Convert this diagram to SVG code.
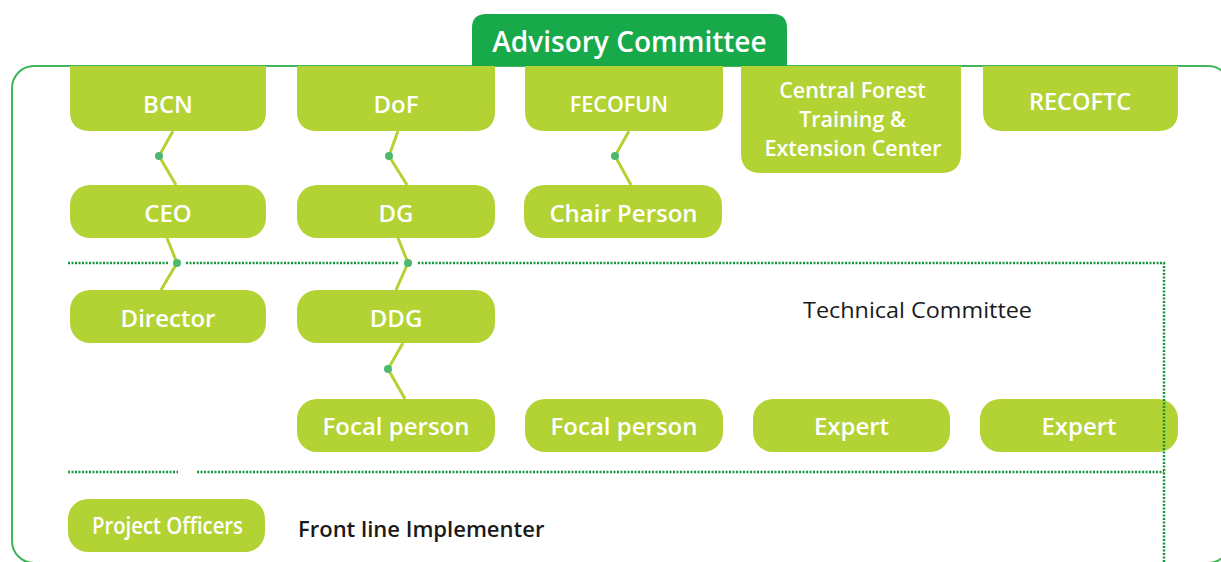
<svg xmlns="http://www.w3.org/2000/svg" width="1221" height="562" viewBox="0 0 1221 562">
  <style>
    .box { fill: #b3d234; }
    .lbl { fill: #ffffff; font-family: "Open Sans", "Liberation Sans", sans-serif; font-weight: 600; font-size: 24px; text-anchor: middle; }
    .link { fill: none; stroke: #b3d234; stroke-width: 3; stroke-linejoin: round; }
    .dot { fill: #4fb870; }
    .dash { fill: none; stroke: #15963d; stroke-width: 2.5; stroke-dasharray: 2 1.5; }
    .plain { font-family: "Open Sans", "Liberation Sans", sans-serif; fill: #1a1a1a; }
  </style>

  <rect width="1221" height="562" fill="#ffffff"/>

  <!-- outer committee frame (runs past the right and bottom edges) -->
  <rect id="frame" x="12" y="66" width="1218" height="497" rx="22" fill="none" stroke="#3fb45a" stroke-width="2"/>

  <!-- title tab -->
  <g id="advisory-committee">
    <path d="M472,66 V28 Q472,14 486,14 H773 Q787,14 787,28 V66 Z" fill="#17a94a"/>
    <text x="629.5" y="52" class="lbl" style="font-size:28px">Advisory Committee</text>
  </g>

  <!-- connectors -->
  <g id="connectors">
    <polyline class="link" points="173,131 159,156 176,185"/>
    <polyline class="link" points="398,131 389,156 407,185"/>
    <polyline class="link" points="629,131 615,156 631,185"/>
    <polyline class="link" points="167,238 177,263 161,290"/>
    <polyline class="link" points="398,238 408,263 396,290"/>
    <polyline class="link" points="403,343 388,369 405,399"/>
    <circle class="dot" cx="159" cy="156" r="4"/>
    <circle class="dot" cx="389" cy="156" r="4"/>
    <circle class="dot" cx="615" cy="156" r="4"/>
    <circle class="dot" cx="177" cy="263" r="4"/>
    <circle class="dot" cx="408" cy="263" r="4"/>
    <circle class="dot" cx="388" cy="369" r="4"/>
  </g>

  <!-- top row: organisations -->
  <g id="bcn">
    <path class="box" d="M70,66 H266 V111 Q266,131 246,131 H90 Q70,131 70,111 Z"/>
    <text x="168" y="113" class="lbl">BCN</text>
  </g>
  <g id="dof">
    <path class="box" d="M297,66 H495 V111 Q495,131 475,131 H317 Q297,131 297,111 Z"/>
    <text x="396" y="113" class="lbl">DoF</text>
  </g>
  <g id="fecofun">
    <path class="box" d="M525,66 H723 V111 Q723,131 703,131 H545 Q525,131 525,111 Z"/>
    <text x="619" y="112" class="lbl" style="font-size:21.5px">FECOFUN</text>
  </g>
  <g id="central-forest">
    <path class="box" d="M741,66 H961 V153 Q961,173 941,173 H761 Q741,173 741,153 Z"/>
    <text x="852.5" y="98" class="lbl" style="font-size:21.5px">Central Forest</text>
    <text x="852.5" y="127" class="lbl" style="font-size:21.5px">Training &amp;</text>
    <text x="853" y="156" class="lbl" style="font-size:21.5px">Extension Center</text>
  </g>
  <g id="recoftc">
    <path class="box" d="M983,66 H1178 V111 Q1178,131 1158,131 H1003 Q983,131 983,111 Z"/>
    <text x="1080" y="110" class="lbl" style="font-size:23.5px">RECOFTC</text>
  </g>

  <!-- second row -->
  <g id="ceo">
    <rect class="box" x="70" y="185" width="196" height="53" rx="20"/>
    <text x="168" y="222" class="lbl">CEO</text>
  </g>
  <g id="dg">
    <rect class="box" x="297" y="185" width="198" height="53" rx="20"/>
    <text x="396" y="222" class="lbl">DG</text>
  </g>
  <g id="chair-person">
    <rect class="box" x="524" y="185" width="198" height="53" rx="20"/>
    <text x="623.5" y="222" class="lbl">Chair Person</text>
  </g>

  <!-- third row -->
  <g id="director">
    <rect class="box" x="70" y="290" width="196" height="53" rx="20"/>
    <text x="168" y="327" class="lbl">Director</text>
  </g>
  <g id="ddg">
    <rect class="box" x="297" y="290" width="198" height="53" rx="20"/>
    <text x="396" y="327" class="lbl">DDG</text>
  </g>
  <text x="803" y="318" class="plain" style="font-size:22px" textLength="229" lengthAdjust="spacingAndGlyphs">Technical Committee</text>

  <!-- fourth row -->
  <g id="focal-person-1">
    <rect class="box" x="297" y="399" width="198" height="53" rx="20"/>
    <text x="396" y="435" class="lbl">Focal person</text>
  </g>
  <g id="focal-person-2">
    <rect class="box" x="525" y="399" width="198" height="53" rx="20"/>
    <text x="624" y="435" class="lbl">Focal person</text>
  </g>
  <g id="expert-1">
    <rect class="box" x="753" y="399" width="197" height="53" rx="20"/>
    <text x="851.5" y="435" class="lbl">Expert</text>
  </g>
  <g id="expert-2">
    <rect class="box" x="980" y="399" width="198" height="53" rx="20"/>
    <text x="1079" y="435" class="lbl">Expert</text>
  </g>

  <!-- bottom row -->
  <g id="project-officers">
    <rect class="box" x="68" y="499" width="197" height="53" rx="20"/>
    <text x="92" y="534" class="lbl" style="font-size:23px;text-anchor:start" textLength="151" lengthAdjust="spacingAndGlyphs">Project Officers</text>
  </g>
  <text x="298" y="537" class="plain" style="font-size:22px;font-weight:600">Front line Implementer</text>

  <!-- dotted separators, drawn over the boxes -->
  <g id="separators">
    <path class="dash" d="M68,263 H168 M186,263 H398 M418,263 H1164 V562"/>
    <path class="dash" d="M68,472 H178 M197,472 H1164"/>
  </g>
</svg>
